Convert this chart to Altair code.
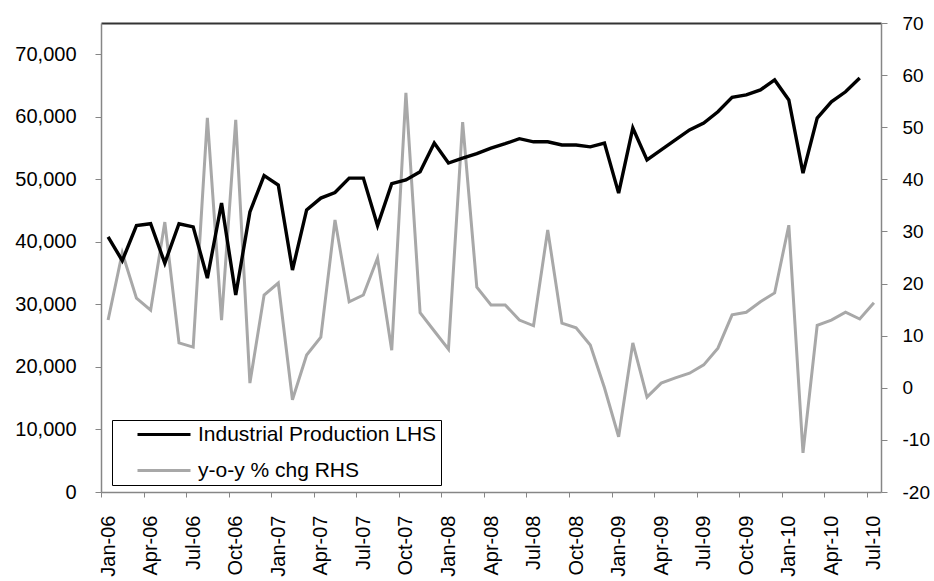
import altair as alt
import pandas as pd

# Monthly category labels, Jan-06 .. Jul-10
months = list(pd.date_range("2006-01-01", periods=55, freq="MS").strftime("%b-%y"))

# Industrial production level (left axis)
industrial_production = [
    40800, 37000, 42600, 42900, 36600, 42900, 42400, 34200, 46200, 31500,
    44800, 50600, 49100, 35500, 45100, 47000, 47900, 50200, 50200, 42600,
    49300, 49900, 51200, 55800, 52600, 53400, 54100, 55000, 55700, 56500,
    56000, 56000, 55500, 55500, 55200, 55800, 47800, 58200, 53100, 54700,
    56300, 57900, 59000, 60800, 63100, 63500, 64300, 65900, 62700, 51000,
    59800, 62400, 64000, 66200,
]

# Year-on-year % change (right axis)
yoy_change = [
    13.0, 25.9, 17.2, 14.9, 31.8, 8.6, 7.8, 51.8, 13.0, 51.4,
    0.9, 17.8, 20.1, -2.3, 6.3, 9.7, 32.2, 16.5, 17.8, 24.9,
    7.2, 56.6, 14.4, 10.9, 7.4, 51.0, 19.3, 15.9, 15.9, 13.0,
    11.9, 30.3, 12.4, 11.5, 8.2, 0.0, -9.4, 8.6, -1.8, 0.9,
    1.9, 2.8, 4.4, 7.6, 14.0, 14.5, 16.5, 18.2, 31.2, -12.5,
    12.0, 13.0, 14.5, 13.2, 16.3,
]

series_names = ["Industrial Production LHS", "y-o-y % chg RHS"]
series_colors = ["#000000", "#a8a8a8"]

left_ticks = list(range(0, 70001, 10000))
right_ticks = list(range(-20, 71, 10))
x_ticks = list(range(0, len(months), 3))

ip_df = pd.DataFrame({
    "idx": range(len(industrial_production)),
    "value": industrial_production,
    "series": series_names[0],
})
yoy_df = pd.DataFrame({
    "idx": range(len(yoy_change)),
    "value": yoy_change,
    "series": series_names[1],
})

W, H = 780, 469
band = W / len(months)
FONT = "Liberation Sans"

label_expr = "[" + ",".join(f"'{m}'" for m in months) + "][datum.value]"
x_scale = alt.Scale(domain=[-0.5, len(months) - 0.5], nice=False, zero=False)

# Legend swatch: a flat line drawn as a custom path, so rows stay compact
color = alt.Color(
    "series:N",
    scale=alt.Scale(domain=series_names, range=series_colors),
    legend=alt.Legend(
        title=None,
        orient="none",
        legendX=11,
        legendY=397,
        direction="vertical",
        symbolType="M2.2,0H12.8",
        symbolSize=100,
        symbolStrokeWidth=3,
        labelFont=FONT,
        labelFontSize=21,
        labelColor="#000000",
        labelOffset=61,
        labelLimit=500,
        strokeColor="#000000",
        fillColor="#ffffff",
        padding=4,
        rowPadding=14,
    ),
)

ip_line = (
    alt.Chart(ip_df)
    .mark_line(strokeWidth=3.4)
    .encode(
        x=alt.X(
            "idx:Q",
            scale=x_scale,
            title=None,
            axis=alt.Axis(
                values=x_ticks,
                labelExpr=label_expr,
                labelAngle=270,
                labelAlign="right",
                labelBaseline="middle",
                tickOffset=-band / 2,
                labelOffset=band / 2,
                tickSize=5,
                labelPadding=18,
                grid=False,
            ),
        ),
        y=alt.Y(
            "value:Q",
            scale=alt.Scale(domain=[0, 75000], nice=False),
            title=None,
            axis=alt.Axis(values=left_ticks, format=",.0f", tickSize=6, labelPadding=19, grid=False),
        ),
        color=color,
    )
)

yoy_line = (
    alt.Chart(yoy_df)
    .mark_line(strokeWidth=3)
    .encode(
        x=alt.X(
            "idx:Q",
            scale=x_scale,
            title=None,
            axis=alt.Axis(orient="top", labels=False, ticks=False, domainColor="#333333",
                          domainWidth=2, grid=False),
        ),
        y=alt.Y(
            "value:Q",
            scale=alt.Scale(domain=[-20, 70], nice=False, zero=False),
            title=None,
            axis=alt.Axis(
                orient="right",
                values=right_ticks,
                labelExpr="datum.value < 0 ? '-' + abs(datum.value) : '' + datum.value",
                labelFontSize=19,
                tickSize=6,
                labelPadding=15,
                grid=False,
            ),
        ),
        color=color,
    )
)

chart = (
    alt.layer(yoy_line, ip_line)
    .resolve_scale(y="independent")
    .resolve_axis(x="independent")
    .properties(
        width=W,
        height=H,
        autosize=alt.AutoSizeParams(type="none"),
        padding={"left": 101, "top": 23, "right": 53, "bottom": 89},
        background="#ffffff",
    )
    .configure_view(stroke=None)
    .configure_axis(
        labelFont=FONT,
        labelFontSize=20,
        labelColor="#000000",
        domainColor="#868686",
        tickColor="#868686",
        domainWidth=1.5,
    )
)

chart.save("out.html", embed_options={"renderer": "svg", "actions": False})
